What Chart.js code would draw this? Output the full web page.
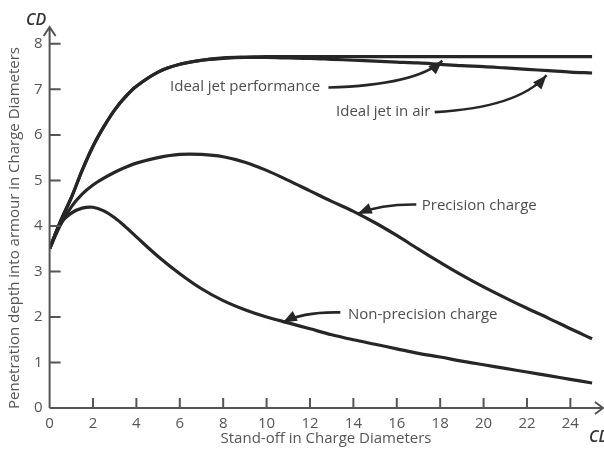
<!DOCTYPE html>
<html>
<head>
<meta charset="utf-8">
<script src="https://cdn.jsdelivr.net/npm/chart.js@4.4.1/dist/chart.umd.min.js"></script>
<style>
  html, body { margin: 0; padding: 0; background: #fff; }
  #wrap { width: 604px; height: 450px; position: relative; }
</style>
</head>
<body>
<div id="wrap"><canvas id="grafico"></canvas></div>
<script>
// stand-off in charge diameters
const standoff = [0, 0.5, 1, 1.5, 2, 2.5, 3, 3.5, 4, 5, 6, 7, 8, 9, 10, 11, 12, 13, 14, 15, 16, 17, 18, 19, 20, 21, 22, 23, 24, 25];

// penetration depth (charge diameters)
const idealJet     = [3.5, 4.1, 4.62, 5.22, 5.75, 6.18, 6.55, 6.84, 7.07, 7.38, 7.55, 7.64, 7.69, 7.71, 7.72, 7.72, 7.72, 7.72, 7.72, 7.72, 7.72, 7.72, 7.72, 7.72, 7.72, 7.72, 7.72, 7.72, 7.72, 7.72];
const idealJetAir  = [3.5, 4.1, 4.62, 5.22, 5.75, 6.18, 6.55, 6.84, 7.07, 7.38, 7.55, 7.64, 7.68, 7.7, 7.7, 7.69, 7.68, 7.66, 7.64, 7.62, 7.6, 7.58, 7.55, 7.52, 7.5, 7.47, 7.44, 7.41, 7.38, 7.36];
const precision    = [3.5, 4.02, 4.42, 4.7, 4.9, 5.05, 5.18, 5.29, 5.38, 5.5, 5.57, 5.57, 5.52, 5.4, 5.22, 5.0, 4.77, 4.54, 4.32, 4.07, 3.79, 3.49, 3.2, 2.92, 2.66, 2.42, 2.19, 1.97, 1.74, 1.52];
const nonPrecision = [3.5, 4.05, 4.28, 4.39, 4.41, 4.33, 4.18, 3.98, 3.76, 3.33, 2.95, 2.62, 2.36, 2.16, 2.0, 1.87, 1.74, 1.61, 1.5, 1.4, 1.3, 1.2, 1.12, 1.03, 0.95, 0.87, 0.79, 0.71, 0.63, 0.55];

const xTicks = [0, 2, 4, 6, 8, 10, 12, 14, 16, 18, 20, 22, 24];
const yTicks = [0, 1, 2, 3, 4, 5, 6, 7, 8];

// callouts: text anchor, arrow start, bend, tip (data units)
const callouts = [
    { text: 'Ideal jet performance', at: [5.55, 7.05], from: [12.85, 7.04], bend: [16.9, 7.1], tip: [18.1, 7.63] },
    { text: 'Ideal jet in air', at: [13.2, 6.5], from: [17.75, 6.5], bend: [21.6, 6.6], tip: [22.9, 7.31] },
    { text: 'Precision charge', at: [17.15, 4.44], from: [16.9, 4.47], bend: [15.3, 4.48], tip: [14.2, 4.27] },
    { text: 'Non-precision charge', at: [13.75, 2.04], from: [13.4, 2.1], bend: [11.7, 2.12], tip: [10.75, 1.88] }
];

const FONT = '"Open Sans", "Liberation Sans", sans-serif';
const INK = '#262626';
const GREY = '#555555';

function serie(values) {
    return {
        data: values.map((v, i) => ({ x: standoff[i], y: v })),
        borderColor: INK,
        borderWidth: 3.2,
        pointRadius: 0,
        fill: false,
        tension: 0.35
    };
}

function arrowHead(ctx, x, y, fromX, fromY) {
    const a = Math.atan2(y - fromY, x - fromX);
    const len = 14, half = 5.5;
    ctx.beginPath();
    ctx.moveTo(x, y);
    ctx.lineTo(x - len * Math.cos(a) + half * Math.sin(a), y - len * Math.sin(a) - half * Math.cos(a));
    ctx.lineTo(x - len * Math.cos(a) - half * Math.sin(a), y - len * Math.sin(a) + half * Math.cos(a));
    ctx.closePath();
    ctx.fill();
}

const decor = {
    id: 'decor',
    afterDraw(chart) {
        const { ctx, scales } = chart;
        const sx = scales.x, sy = scales.y;
        const X = v => sx.getPixelForValue(v);
        const Y = v => sy.getPixelForValue(v);
        const ox = X(0), oy = Y(0);
        const right = chart.width - 1, top = chart.chartArea.top;

        ctx.save();
        ctx.strokeStyle = GREY;
        ctx.lineWidth = 2;
        // axes with open arrow heads
        ctx.beginPath();
        ctx.moveTo(ox, oy); ctx.lineTo(ox, top);
        ctx.moveTo(ox - 6, top + 9); ctx.lineTo(ox, top); ctx.lineTo(ox + 6, top + 9);
        ctx.moveTo(ox, oy); ctx.lineTo(right, oy);
        ctx.moveTo(right - 8, oy - 6); ctx.lineTo(right, oy); ctx.lineTo(right - 8, oy + 6);
        ctx.stroke();
        // tick marks inside the plot
        ctx.beginPath();
        xTicks.filter(v => v > 0).forEach(v => { ctx.moveTo(X(v), oy); ctx.lineTo(X(v), oy - 10); });
        yTicks.filter(v => v > 0).forEach(v => { ctx.moveTo(ox, Y(v)); ctx.lineTo(ox + 11, Y(v)); });
        ctx.stroke();

        // unit labels
        ctx.fillStyle = '#333';
        ctx.font = 'italic 600 16px ' + FONT;
        ctx.textBaseline = 'middle';
        ctx.textAlign = 'left';
        ctx.fillText('CD', 26, 20);
        ctx.fillText('CD', 589, 437);

        // axis titles
        ctx.fillStyle = GREY;
        ctx.font = '15px ' + FONT;
        ctx.textAlign = 'center';
        ctx.fillText('Stand-off in Charge Diameters', 326, 439);
        ctx.save();
        ctx.translate(15, 228);
        ctx.rotate(-Math.PI / 2);
        ctx.fillText('Penetration depth into armour in Charge Diameters', 0, 0);
        ctx.restore();

        // callouts
        ctx.font = '15px ' + FONT;
        ctx.textAlign = 'left';
        ctx.strokeStyle = INK;
        ctx.lineWidth = 2.6;
        callouts.forEach(c => {
            ctx.fillStyle = '#4d4d4d';
            ctx.fillText(c.text, X(c.at[0]), Y(c.at[1]));
            ctx.fillStyle = INK;
            ctx.beginPath();
            ctx.moveTo(X(c.from[0]), Y(c.from[1]));
            ctx.quadraticCurveTo(X(c.bend[0]), Y(c.bend[1]), X(c.tip[0]), Y(c.tip[1]));
            ctx.stroke();
            arrowHead(ctx, X(c.tip[0]), Y(c.tip[1]), X(c.bend[0]), Y(c.bend[1]));
        });
        ctx.restore();
    }
};

new Chart(document.getElementById('grafico'), {
    type: 'line',
    data: {
        datasets: [serie(idealJet), serie(idealJetAir), serie(precision), serie(nonPrecision)]
    },
    options: {
        responsive: true,
        maintainAspectRatio: false,
        animation: false,
        layout: { padding: { top: 27, right: 0, left: 0, bottom: 0 } },
        plugins: { legend: { display: false }, tooltip: { enabled: false } },
        scales: {
            x: {
                type: 'linear',
                min: 0,
                max: 25.55,
                grid: { display: false, drawTicks: false },
                border: { display: false },
                afterFit: s => { s.height = 42; },
                afterBuildTicks: s => { s.ticks = xTicks.map(v => ({ value: v })); },
                ticks: { color: GREY, padding: 7, font: { family: FONT, size: 15 }, maxRotation: 0, autoSkip: false }
            },
            y: {
                min: 0,
                max: 8.37,
                grid: { display: false, drawTicks: false },
                border: { display: false },
                afterFit: s => { s.width = 49.6; },
                afterBuildTicks: s => { s.ticks = yTicks.map(v => ({ value: v })); },
                ticks: { color: GREY, padding: 7, font: { family: FONT, size: 15 } }
            }
        }
    },
    plugins: [decor]
});
</script>
</body>
</html>
